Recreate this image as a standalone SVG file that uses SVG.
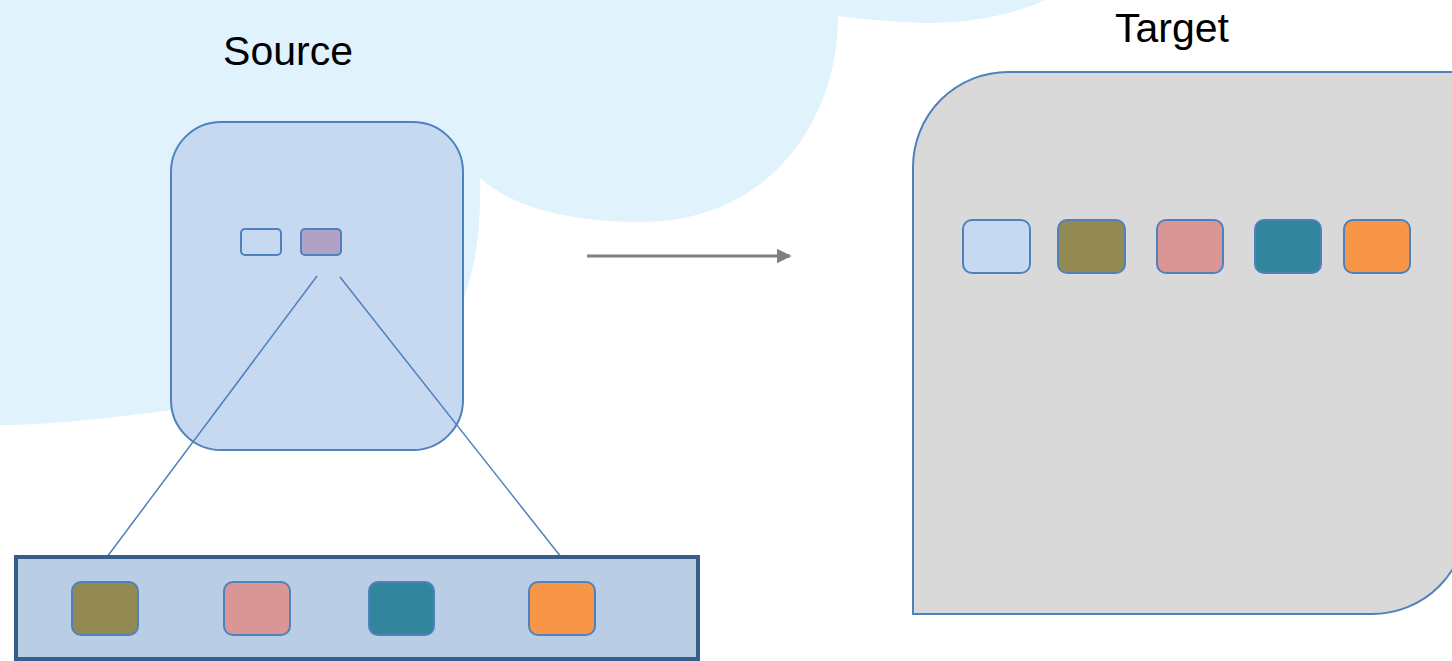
<svg xmlns="http://www.w3.org/2000/svg" width="1452" height="661" viewBox="0 0 1452 661">
<defs>
<style>
.lbl{font-family:"Liberation Sans",Arial,sans-serif;font-size:41px;fill:#000;text-anchor:middle}
.chip{stroke:#4F81BD;stroke-width:2}
.ln{stroke:#4F81BD;stroke-width:1.5;fill:none}
</style>
<marker id="ah" markerWidth="5" markerHeight="5" refX="4.5" refY="2.5" orient="auto" markerUnits="strokeWidth">
<path d="M0,0 L5,2.5 L0,5 Z" fill="#7F7F7F"/>
</marker>
</defs>
<rect width="1452" height="661" fill="#FFFFFF"/>
<g id="cloud">
<path d="M0,0 H1045 C1010,16 960,26 905,22 C875,20 852,18 838,16 C838,120 770,222 640,222 C565,222 510,205 480,178 C484,300 440,390 330,405 C280,410 230,408 172,410 C110,418 50,425 0,425 Z" fill="#E0F2FC"/>
</g>
<g id="source">
<text class="lbl" x="288" y="65">Source</text>
<rect x="171" y="122" width="292" height="328" rx="50" ry="50" fill="#C6D9F0" stroke="#4F81BD" stroke-width="2"/>
<rect x="241" y="229" width="40" height="26" rx="4" fill="#C6D9F0" class="chip"/>
<rect x="301" y="229" width="40" height="26" rx="4" fill="#B2A1C7" class="chip" stroke-width="2.5"/>
</g>
<g id="connectors">
<line class="ln" x1="317" y1="276" x2="107" y2="557"/>
<line class="ln" x1="340" y1="277" x2="561" y2="557"/>
<line x1="587" y1="256" x2="790" y2="256" stroke="#7F7F7F" stroke-width="3" marker-end="url(#ah)"/>
</g>
<g id="expanded">
<rect x="16" y="557" width="682" height="102" fill="#B9CDE5" stroke="#385D8A" stroke-width="4"/>
<rect x="72" y="582" width="66" height="53" rx="9" fill="#938953" class="chip"/>
<rect x="224" y="582" width="66" height="53" rx="9" fill="#DA9694" class="chip"/>
<rect x="369" y="582" width="65" height="53" rx="9" fill="#31859C" class="chip"/>
<rect x="529" y="582" width="66" height="53" rx="9" fill="#F79646" class="chip"/>
</g>
<g id="target">
<text class="lbl" x="1172" y="42">Target</text>
<path d="M913,614 V167 A95,95 0 0 1 1008,72 H1467 V519 A95,95 0 0 1 1372,614 Z" fill="#D9D9D9" stroke="#4F81BD" stroke-width="2"/>
<rect x="963" y="220" width="67" height="53" rx="9" fill="#C6D9F1" class="chip"/>
<rect x="1058" y="220" width="67" height="53" rx="9" fill="#938953" class="chip"/>
<rect x="1157" y="220" width="66" height="53" rx="9" fill="#DA9694" class="chip"/>
<rect x="1255" y="220" width="66" height="53" rx="9" fill="#31859C" class="chip"/>
<rect x="1344" y="220" width="66" height="53" rx="9" fill="#F79646" class="chip"/>
</g>
</svg>
